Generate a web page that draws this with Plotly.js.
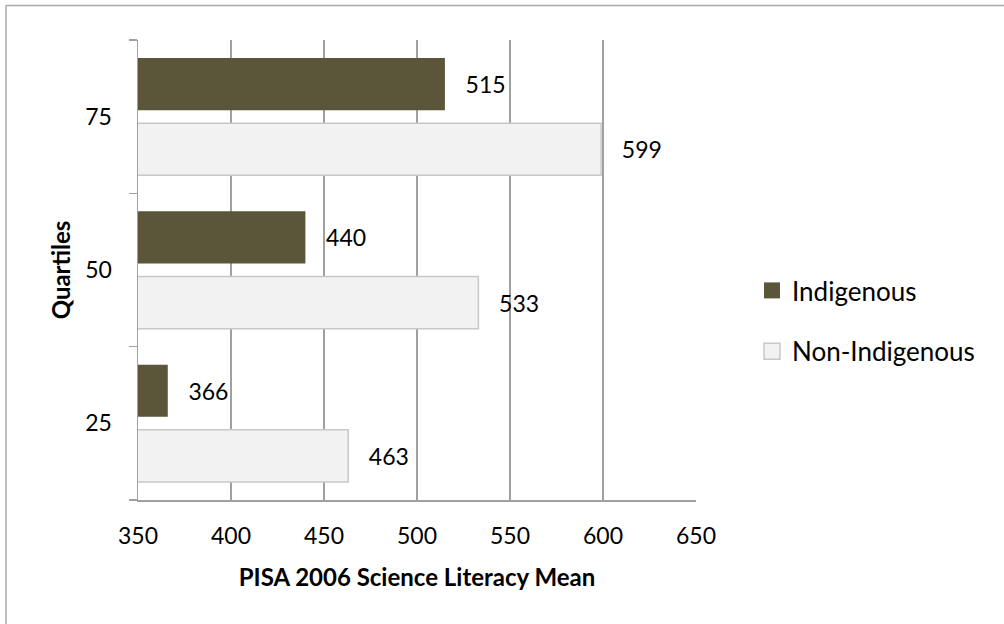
<!DOCTYPE html>
<html>
<head>
<meta charset="utf-8">
<script src="https://cdn.plot.ly/plotly-3.0.1.min.js"></script>
<style>
  html, body { margin: 0; padding: 0; background: #ffffff; }
  #chart { width: 1004px; height: 624px; }
</style>
</head>
<body>
<div id="chart"></div>
<script>
// ---- data ----
const quartiles = ['25', '50', '75'];
const indigenous = [366, 440, 515];
const nonIndigenous = [463, 533, 599];
const seriesNames = ['Indigenous', 'Non-Indigenous'];
const xTicks = [350, 400, 450, 500, 550, 600, 650];

// ---- styling ----
const FONT = 'Lato, "Open Sans", "Liberation Sans", sans-serif';
const W = 1004, H = 624;
const M = { l: 138, r: 308, t: 40, b: 124 };
const pw = W - M.l - M.r, ph = H - M.t - M.b;
const pad = '\u00a0\u00a0\u00a0';
const INDIG = '#5B5539', NONI = '#F2F2F2', NONI_LINE = '#C8C8C8';

const traces = [
  {
    type: 'bar', orientation: 'h', name: seriesNames[1], showlegend: false,
    y: quartiles, x: nonIndigenous,
    text: nonIndigenous.map(v => pad + v), textposition: 'outside',
    textfont: { family: FONT, size: 23, color: '#000' },
    cliponaxis: false,
    marker: { color: NONI, line: { color: NONI_LINE, width: 1.5 } }
  },
  {
    type: 'bar', orientation: 'h', name: seriesNames[0], showlegend: false,
    y: quartiles, x: indigenous,
    text: indigenous.map(v => pad + v), textposition: 'outside',
    textfont: { family: FONT, size: 23, color: '#000' },
    cliponaxis: false,
    marker: { color: INDIG, line: { width: 0 } }
  },
  // legend entries
  {
    type: 'scatter', mode: 'markers', name: seriesNames[0], legendgroup: 'a',
    x: [null], y: [null],
    marker: { symbol: 'square', size: 16, color: INDIG, line: { width: 0 } }
  },
  {
    type: 'scatter', mode: 'markers', name: seriesNames[1], legendgroup: 'b',
    x: [null], y: [null],
    marker: { symbol: 'square', size: 16, color: NONI, line: { color: NONI_LINE, width: 1.5 } }
  }
];

const layout = {
  width: W, height: H,
  margin: M,
  paper_bgcolor: '#ffffff', plot_bgcolor: '#ffffff',
  font: { family: FONT, size: 20, color: '#000' },
  barmode: 'group', bargap: 0.15, bargroupgap: 0.2,
  showlegend: true,
  legend: {
    traceorder: 'grouped',
    x: (752 - M.l) / pw, y: 1 - (321 - M.t) / ph,
    xanchor: 'left', yanchor: 'middle',
    font: { family: FONT, size: 26, color: '#000' },
    itemsizing: 'trace', tracegroupgap: 24, bgcolor: 'rgba(0,0,0,0)'
  },
  xaxis: {
    range: [350, 650], tickvals: xTicks, ticktext: xTicks.map(String),
    showgrid: true, gridcolor: '#A0A0A0', gridwidth: 1.5,
    showline: true, linecolor: '#A0A0A0', linewidth: 1.5,
    zeroline: false, ticks: '', ticklabelstandoff: 15,
    tickfont: { family: FONT, size: 23, color: '#000' },
    title: { text: '<b>PISA 2006 Science Literacy Mean</b>', font: { family: FONT, size: 24, color: '#000' }, standoff: 21 },
    fixedrange: true
  },
  yaxis: {
    type: 'category', categoryorder: 'array', categoryarray: quartiles,
    showgrid: false, showline: true, linecolor: '#A0A0A0', linewidth: 1.5,
    ticks: 'outside', tickson: 'boundaries', ticklen: 8, tickcolor: '#A0A0A0', tickwidth: 1.5,
    ticklabelstandoff: 20,
    tickfont: { family: FONT, size: 23, color: '#000' },
    title: { text: '<b>Quartiles</b>', font: { family: FONT, size: 24, color: '#000' }, standoff: 8 },
    fixedrange: true
  },
  shapes: [
    { type: 'line', xref: 'paper', yref: 'paper',
      x0: (6 - M.l) / pw, x1: (W - M.l) / pw,
      y0: (H - M.b - 5.5) / ph, y1: (H - M.b - 5.5) / ph,
      line: { color: '#A8A8A8', width: 1.5 } },
    { type: 'line', xref: 'paper', yref: 'paper',
      x0: (6 - M.l) / pw, x1: (6 - M.l) / pw,
      y0: (H - M.b - 5.5) / ph, y1: -M.b / ph,
      line: { color: '#A8A8A8', width: 1.5 } }
  ]
};

Plotly.newPlot('chart', traces, layout, { staticPlot: true, displayModeBar: false });
</script>
</body>
</html>
